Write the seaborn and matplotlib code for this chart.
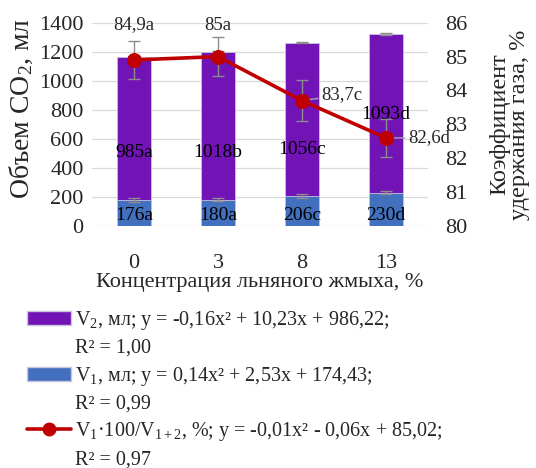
import numpy as np
import pandas as pd
import matplotlib
matplotlib.use("Agg")
import matplotlib.pyplot as plt
from matplotlib.patches import Patch
from matplotlib.lines import Line2D
import seaborn as sns

# ---- data ----
conc = ["0", "3", "8", "13"]
v1 = [176, 180, 206, 230]
v2 = [985, 1018, 1056, 1093]
ratio = [84.9, 85.0, 83.7, 82.6]
v1_err = [14, 10, 13, 11]
tot_err = [8, 8, 5, 8]
ratio_err = [0.57, 0.57, 0.6, 0.55]
v1_labels = ["176a", "180a", "206c", "230d"]
v2_labels = ["985a", "1018b", "1056c", "1093d"]
ratio_labels = ["84,9a", "85a", "83,7c", "82,6d"]
legend_v2 = ["V$_2$, мл; y = -0,16x² + 10,23x + 986,22;", "R² = 1,00"]
legend_v1 = ["V$_1$, мл; y = 0,14x² + 2,53x + 174,43;", "R² = 0,99"]
legend_r = ["V$_1$·100/V$_{1+2}$, %; y = -0,01x² - 0,06x + 85,02;", "R² = 0,97"]

sns.set_theme(style="white")
plt.rcParams["font.family"] = ["Liberation Serif", "DejaVu Serif"]
plt.rcParams["mathtext.fontset"] = "custom"
plt.rcParams["mathtext.rm"] = "Liberation Serif"
plt.rcParams["mathtext.it"] = "Liberation Serif:italic"
plt.rcParams["mathtext.bf"] = "Liberation Serif:bold"

PURPLE = "#7213B6"
BLUE = "#4270BE"
RED = "#C00000"
GREY = "#8C8C8C"

fig = plt.figure(figsize=(5.36, 4.68), dpi=100)
ax = fig.add_axes([0.1716, 0.5171, 0.6269, 0.4344])

total = np.array(v1) + np.array(v2)
df = pd.DataFrame({"conc": conc, "v1": v1, "v2": v2, "total": total, "ratio": ratio})

sns.barplot(data=df, x="conc", y="total", color=PURPLE, saturation=1, width=0.4,
            errorbar=None, edgecolor="#C8C4DC", linewidth=0.6, ax=ax, zorder=2)
sns.barplot(data=df, x="conc", y="v1", color=BLUE, saturation=1, width=0.4,
            errorbar=None, edgecolor="#C8C4DC", linewidth=0.6, ax=ax, zorder=2)
xpos = np.arange(len(conc))
ax.errorbar(xpos, total, yerr=tot_err, fmt="none", ecolor=GREY, elinewidth=1, capsize=4, zorder=3)
ax.errorbar(xpos, v1, yerr=v1_err, fmt="none", ecolor=GREY, elinewidth=1, capsize=4, zorder=3)

ax.set_ylim(0, 1400)
ax.set_yticks(range(0, 1401, 200))
ax.grid(axis="y", color="#D9D9D9", linewidth=0.9, zorder=0)
ax.set_axisbelow(True)
for s in ax.spines.values():
    s.set_visible(False)
ax.tick_params(axis="both", length=0, labelsize=16)
ax.tick_params(axis="y", pad=6)
ax.tick_params(axis="x", pad=20)
ax.set_xlabel("Концентрация льняного жмыха, %", fontsize=16, labelpad=0)
ax.set_ylabel("Объем CO$_2$, мл", fontsize=20)
ax.yaxis.set_label_coords(-0.17, 0.58)

v2_label_y = [505, 505, 525, 765]
for i in range(len(conc)):
    ax.text(i, v2_label_y[i], v2_labels[i], ha="center", va="center", fontsize=14, color="black", zorder=5)
    ax.text(i, 75, v1_labels[i], ha="center", va="center", fontsize=14, color="black", zorder=5)

ax2 = ax.twinx()
sns.lineplot(x=xpos, y=ratio, color=RED, linewidth=2.6, marker="o", markersize=10,
             markeredgecolor=RED, ax=ax2, zorder=6)
ax2.errorbar(xpos, ratio, yerr=ratio_err, fmt="none", ecolor=GREY, elinewidth=1, capsize=4, zorder=5)
ax2.set_ylim(80, 86)
ax2.set_yticks(range(80, 87))
ax2.set_xlim(-0.5, len(conc) - 0.5)
for s in ax2.spines.values():
    s.set_visible(False)
ax2.tick_params(axis="y", length=0, labelsize=16, pad=12)
ax2.set_ylabel("Коэффициент\nудержания газа, %", fontsize=17.5, labelpad=16, linespacing=0.9)

# point labels
ax2.text(0, 85.93, ratio_labels[0], ha="center", va="center", fontsize=13.5)
ax2.text(1, 85.93, ratio_labels[1], ha="center", va="center", fontsize=13.5)
for i, (dx, dy) in zip([2, 3], [(14, 4), (16, 0)]):
    ax2.annotate(ratio_labels[i], xy=(i, ratio[i]), xytext=(dx, dy), textcoords="offset points",
                 ha="left", va="center", fontsize=13.5,
                 arrowprops=dict(arrowstyle="-", color="#A6A6A6", lw=1, shrinkA=0, shrinkB=0))

handles = [Patch(facecolor=PURPLE, edgecolor="#C8C4DC"), Line2D([], [], alpha=0),
           Patch(facecolor=BLUE, edgecolor="#C8C4DC"), Line2D([], [], alpha=0),
           Line2D([], [], color=RED, linewidth=2.6, marker="o", markersize=9), Line2D([], [], alpha=0)]
labels = [legend_v2[0], legend_v2[1], legend_v1[0], legend_v1[1], legend_r[0], legend_r[1]]
fig.legend(handles, labels, loc="upper left", bbox_to_anchor=(0.05, 0.34), frameon=False,
           fontsize=14.5, handlelength=2.2, handleheight=0.7, handletextpad=0.2,
           labelspacing=0.34, borderaxespad=0, borderpad=0)

fig.savefig("out.png", dpi=100)
